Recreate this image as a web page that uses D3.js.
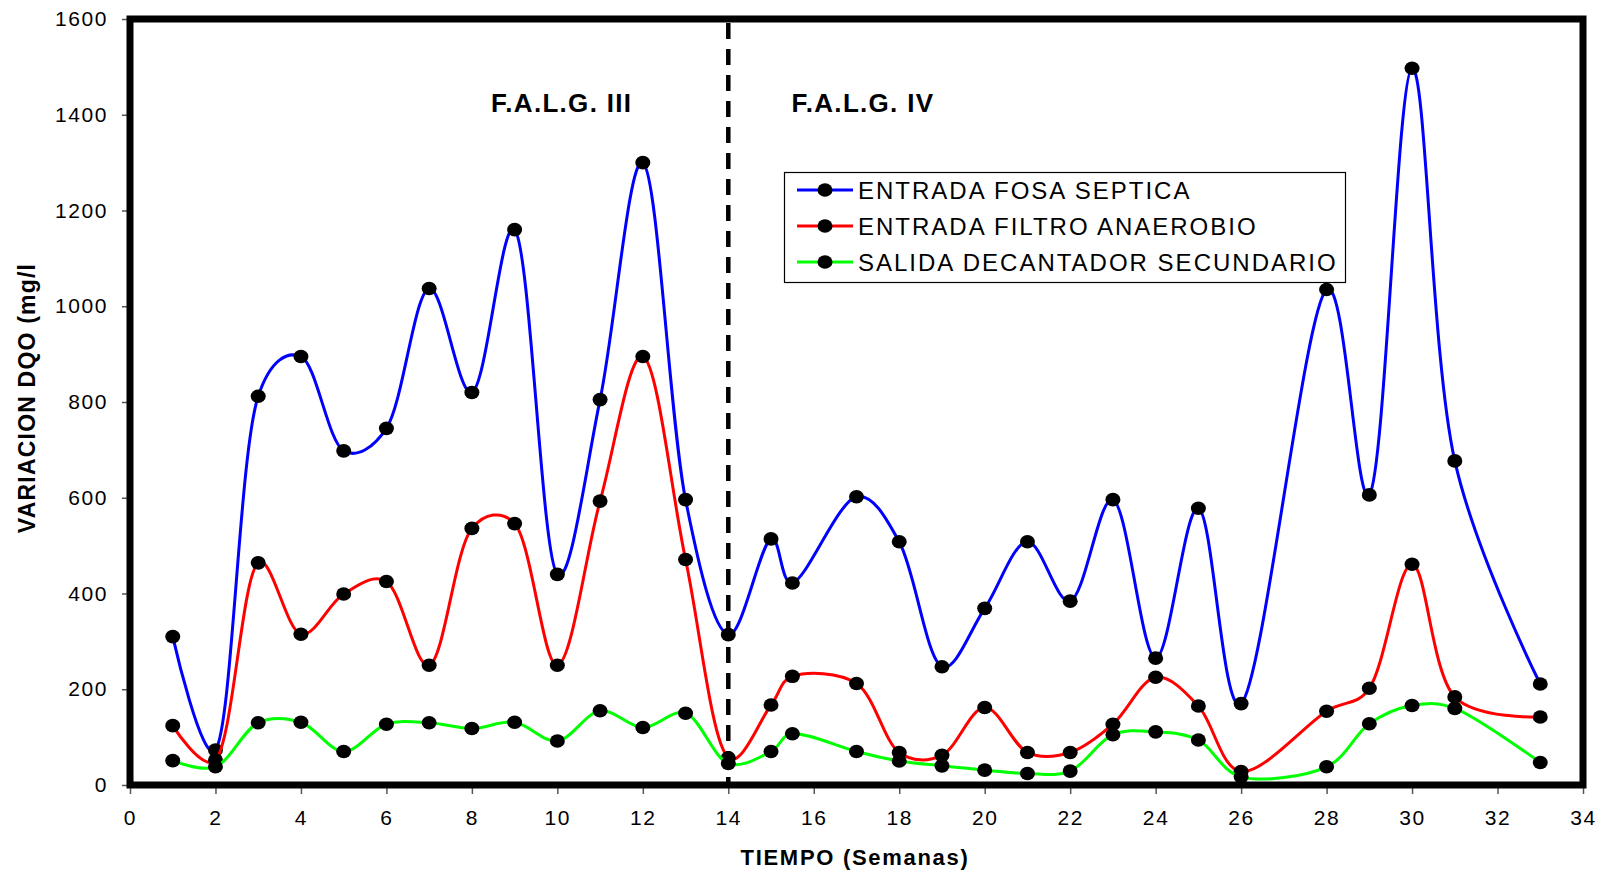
<!DOCTYPE html>
<html>
<head>
<meta charset="utf-8">
<script src="https://cdn.jsdelivr.net/npm/d3@7"></script>
<style>
  html, body { margin: 0; padding: 0; background: #fff; }
  svg { display: block; }
  text { font-family: "Liberation Sans", Arial, sans-serif; fill: #000; }
</style>
</head>
<body>
<svg id="chart" width="1606" height="874"></svg>
<script>
// Sampling weeks (shared by all three series)
const weeks = [1, 2, 3, 4, 5, 6, 7, 8, 9, 10, 11, 12, 13, 14, 15, 15.5, 17, 18, 19, 20, 21, 22, 23, 24, 25, 26, 28, 29, 30, 31, 33];

// COD (DQO) in mg/l
const fosaSeptica = [310, 73, 812, 895, 698, 745, 1037, 820, 1160, 440, 805, 1300, 596, 314, 514, 422, 602, 508, 247, 369, 508, 384, 596, 265, 578, 170, 1035, 606, 1497, 677, 211];
const filtroAnaerobio = [124, 52, 464, 315, 399, 425, 250, 536, 546, 250, 593, 895, 471, 57, 167, 227, 212, 68, 62, 162, 68, 68, 127, 225, 165, 28, 154, 202, 461, 184, 142];
const decantador = [51, 38, 130, 131, 70, 127, 130, 118, 131, 92, 155, 120, 150, 45, 70, 107, 70, 50, 40, 31, 24, 29, 105, 111, 94, 17, 38, 128, 166, 160, 47];

const seriesNames = ["ENTRADA FOSA SEPTICA", "ENTRADA FILTRO ANAEROBIO", "SALIDA DECANTADOR SECUNDARIO"];
const seriesColors = ["#0000ff", "#ff0000", "#00ff00"];
const seriesValues = [fosaSeptica, filtroAnaerobio, decantador];

const xTicks = d3.range(0, 35, 2);
const yTicks = d3.range(0, 1601, 200);

const phaseLabels = ["F.A.L.G. III", "F.A.L.G. IV"];
const phaseSplit = 14;

const xTitle = "TIEMPO (Semanas)";
const yTitle = "VARIACION DQO (mg/l";

const svg = d3.select("#chart");

const plot = { left: 130, right: 1583, top: 19, bottom: 785 };

const x = d3.scaleLinear().domain([0, 34]).range([plot.left, plot.right]);
const y = d3.scaleLinear().domain([0, 1600]).range([plot.bottom, plot.top]);

// Axes (ticks outside the frame)
const yAxis = svg.append("g")
  .attr("transform", `translate(${plot.left},0)`)
  .call(d3.axisLeft(y).tickValues(yTicks).tickSize(8).tickPadding(14).tickFormat(d3.format("d")));
yAxis.select(".domain").remove();
yAxis.selectAll(".tick line").attr("stroke", "#555").attr("stroke-width", 1.5);
yAxis.selectAll(".tick text")
  .style("font-size", "21px").style("letter-spacing", "1.6px")
  .attr("font-family", null);

const xAxis = svg.append("g")
  .attr("transform", `translate(0,${plot.bottom})`)
  .call(d3.axisBottom(x).tickValues(xTicks).tickSize(9).tickPadding(16).tickFormat(d3.format("d")));
xAxis.select(".domain").remove();
xAxis.selectAll(".tick line").attr("stroke", "#555").attr("stroke-width", 1.5);
xAxis.selectAll(".tick text")
  .style("font-size", "21px").style("letter-spacing", "1.6px")
  .attr("font-family", null);

// Series lines, smoothed
const line = d3.line()
  .x((d, i) => x(weeks[i]))
  .y(d => y(d))
  .curve(d3.curveCatmullRom.alpha(0.25));

seriesValues.forEach((vals, s) => {
  const g = svg.append("g");
  g.append("path")
    .datum(vals)
    .attr("d", line)
    .attr("fill", "none")
    .attr("stroke", seriesColors[s])
    .attr("stroke-width", 3);
  g.selectAll("ellipse")
    .data(vals)
    .join("ellipse")
    .attr("cx", (d, i) => x(weeks[i]))
    .attr("cy", d => y(d))
    .attr("rx", 7.5)
    .attr("ry", 6.8)
    .attr("fill", "#000");
});

// Phase divider
svg.append("line")
  .attr("x1", x(phaseSplit)).attr("x2", x(phaseSplit))
  .attr("y1", plot.top + 4).attr("y2", plot.bottom)
  .attr("stroke", "#000")
  .attr("stroke-width", 4.5)
  .attr("stroke-dasharray", "16,10");

// Phase labels
svg.append("text")
  .attr("x", x(10.1)).attr("y", 112)
  .attr("text-anchor", "middle")
  .style("font-size", "26px").style("font-weight", "bold").style("letter-spacing", "1.3px")
  .text(phaseLabels[0]);
svg.append("text")
  .attr("x", x(17.15)).attr("y", 112)
  .attr("text-anchor", "middle")
  .style("font-size", "26px").style("font-weight", "bold").style("letter-spacing", "1.3px")
  .text(phaseLabels[1]);

// Plot frame
svg.append("rect")
  .attr("x", plot.left).attr("y", plot.top)
  .attr("width", plot.right - plot.left)
  .attr("height", plot.bottom - plot.top)
  .attr("fill", "none")
  .attr("stroke", "#000")
  .attr("stroke-width", 7);

// Legend
const legend = svg.append("g");
legend.append("rect")
  .attr("x", 784.5).attr("y", 172.5)
  .attr("width", 561).attr("height", 110)
  .attr("fill", "#fff")
  .attr("stroke", "#000")
  .attr("stroke-width", 1.2);
const rowY = [190, 226, 262];
seriesNames.forEach((name, s) => {
  const row = legend.append("g").attr("transform", `translate(0,${rowY[s]})`);
  row.append("line")
    .attr("x1", 797).attr("x2", 853)
    .attr("y1", 0).attr("y2", 0)
    .attr("stroke", seriesColors[s]).attr("stroke-width", 3);
  row.append("ellipse")
    .attr("cx", 825).attr("cy", 0)
    .attr("rx", 7.5).attr("ry", 6.8)
    .attr("fill", "#000");
  row.append("text")
    .attr("x", 858).attr("y", 0).attr("dy", "0.36em")
    .style("font-size", "24px").style("letter-spacing", "2px")
    .text(name);
});

// Axis titles
svg.append("text")
  .attr("x", 855).attr("y", 865)
  .attr("text-anchor", "middle")
  .style("font-size", "22px").style("font-weight", "bold").style("letter-spacing", "1.7px")
  .text(xTitle);

svg.append("text")
  .attr("transform", "translate(35,398) rotate(-90)")
  .attr("text-anchor", "middle")
  .style("font-size", "23px").style("font-weight", "bold").style("letter-spacing", "1.2px")
  .text(yTitle);
</script>
</body>
</html>
